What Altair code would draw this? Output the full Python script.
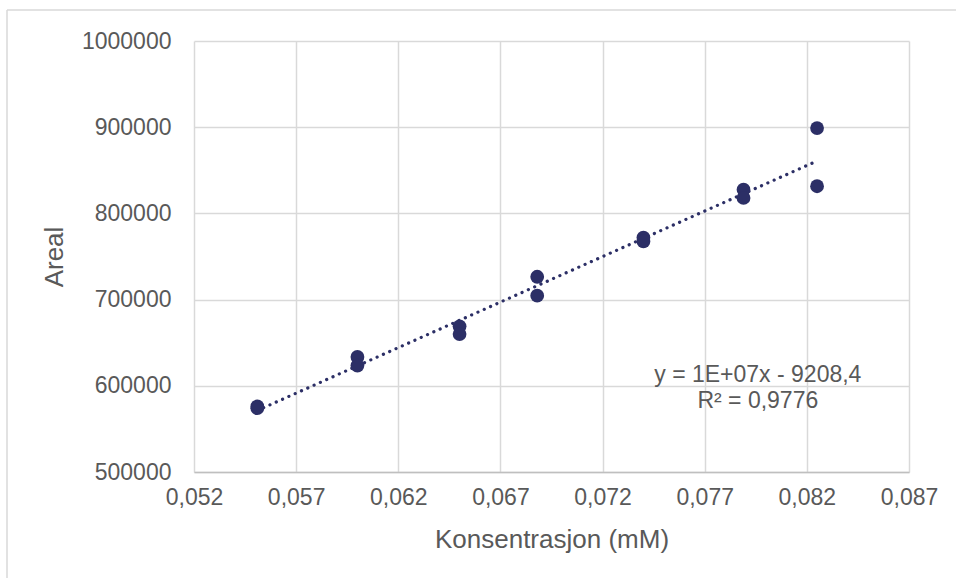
import altair as alt
import pandas as pd

# Data
konsentrasjon = [0.0551, 0.0551, 0.0600, 0.0600, 0.0650, 0.0650, 0.0688, 0.0688,
                 0.0740, 0.0740, 0.0789, 0.0789, 0.0825, 0.0825]
areal = [576000, 574000, 633500, 623500, 669000, 660000, 726500, 704500,
         772000, 767500, 827500, 818000, 899000, 831500]

x_ticks = [0.052, 0.057, 0.062, 0.067, 0.072, 0.077, 0.082, 0.087]
y_ticks = [500000, 600000, 700000, 800000, 900000, 1000000]

eq_lines = ["y = 1E+07x - 9208,4", "R² = 0,9776"]
eq_x = [0.0796, 0.0796]
eq_y = [612700, 582700]

FONT = "Liberation Sans"
GRAY = "#595959"
NAVY = "#2C2F66"

df = pd.DataFrame({"x": konsentrasjon, "y": areal})
eq_df = pd.DataFrame({"x": eq_x, "y": eq_y, "t": eq_lines})

xscale = alt.Scale(domain=[0.052, 0.087], nice=False, zero=False)
yscale = alt.Scale(domain=[500000, 1000000], nice=False, zero=False)

xenc = alt.X("x:Q", scale=xscale,
             axis=alt.Axis(values=x_ticks, title="Konsentrasjon (mM)",
                           labelExpr="replace(format(datum.value, '.3f'), '.', ',')",
                           ticks=False, labelPadding=14, titlePadding=17,
                           labelFlush=False, labelOverlap=False,
                           domainColor="#BFBFBF", domainWidth=1.5))
yenc = alt.Y("y:Q", scale=yscale,
             axis=alt.Axis(values=y_ticks, title="Areal", format="d",
                           ticks=False, labelPadding=23, titlePadding=14,
                           labelFlush=False, labelOverlap=False,
                           domain=False))

points = alt.Chart(df).mark_circle(size=190, opacity=1, color=NAVY).encode(x=xenc, y=yenc)

trend = alt.Chart(df).transform_regression("x", "y").mark_line(
    color=NAVY, strokeWidth=3.2, strokeDash=[0.1, 6.8], strokeCap="round"
).encode(x="x:Q", y="y:Q")

eq = alt.Chart(eq_df).mark_text(font=FONT, fontSize=23, color=GRAY, align="center",
                                baseline="middle").encode(x="x:Q", y="y:Q", text="t:N")

border = alt.Chart(pd.DataFrame({"a": [0]})).mark_rule(color="#D9D9D9", strokeWidth=1.5)
border_v = border.encode(x=alt.value(-187), y=alt.value(-31), y2=alt.value(600))
border_h = border.encode(x=alt.value(-187), x2=alt.value(800), y=alt.value(-31))

chart = alt.layer(border_v, border_h, trend, points, eq).properties(
    width=715, height=431,
    autosize=alt.AutoSizeParams(type="none"),
    padding={"left": 194, "top": 41, "right": 47, "bottom": 106},
    background="white",
).configure_view(stroke=None).configure_axis(
    labelFont=FONT, titleFont=FONT, labelColor=GRAY, titleColor=GRAY,
    labelFontSize=23, titleFontSize=26, titleFontWeight="normal",
    gridColor="#D9D9D9", gridWidth=1.5,
)

chart.save("out.html", embed_options={"renderer": "svg", "actions": False})
